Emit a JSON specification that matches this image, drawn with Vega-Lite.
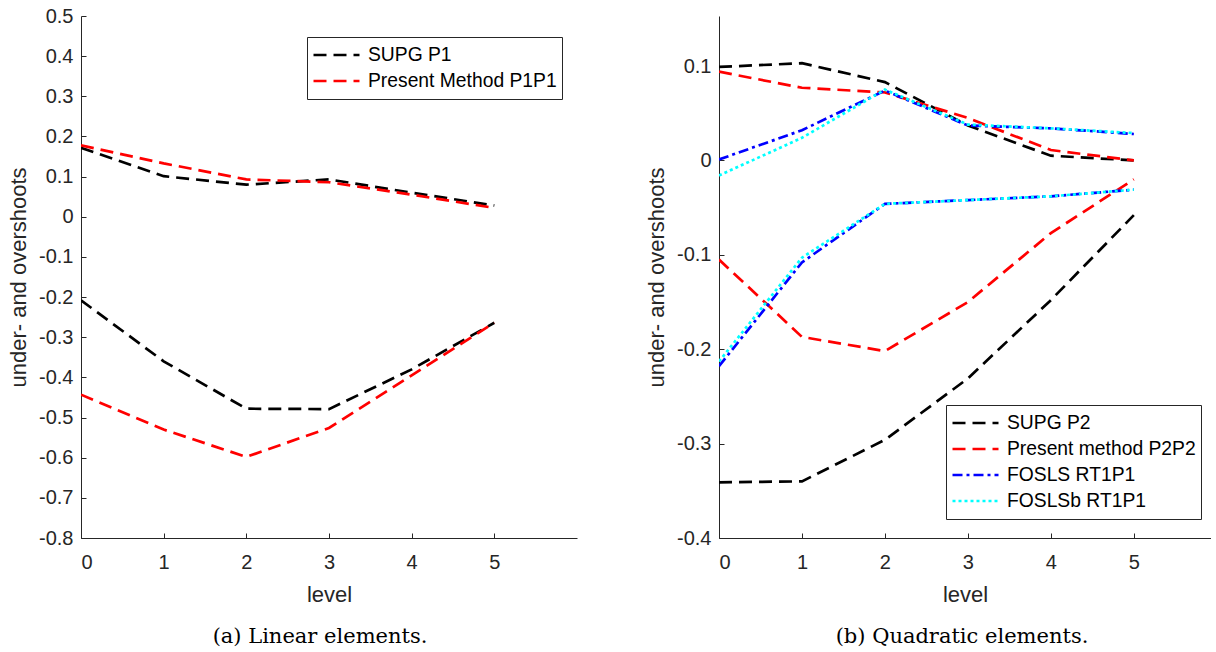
{
  "$schema": "https://vega.github.io/schema/vega-lite/v6.json",
  "background": "white",
  "autosize": {"type": "pad"},
  "padding": {"left": 7, "top": 6, "right": 0, "bottom": 0},
  "bounds": "flush",
  "spacing": 142,
  "config": {
    "view": {"stroke": null},
    "axis": {
      "grid": false,
      "domainColor": "#262626",
      "tickColor": "#262626",
      "labelColor": "#262626",
      "titleColor": "#262626",
      "labelFont": "Liberation Sans",
      "titleFont": "Liberation Sans",
      "labelFontSize": 20,
      "titleFontSize": 22,
      "titleFontWeight": "normal",
      "tickSize": -5,
      "tickWidth": 1,
      "domainWidth": 1
    },
    "axisY": {"labelPadding": 13, "titlePadding": 8},
    "axisX": {"labelPadding": 19, "titlePadding": 12},
    "legend": {
      "orient": "none",
      "title": null,
      "labelFont": "Liberation Sans",
      "labelFontSize": 19.3,
      "labelColor": "#000000",
      "symbolType": "stroke",
      "symbolSize": 2116,
      "symbolStrokeWidth": 2.6,
      "labelOffset": 7,
      "rowPadding": 0,
      "clipHeight": 26,
      "padding": 5,
      "strokeColor": "#262626",
      "fillColor": "white",
      "labelLimit": 400
    },
    "title": {
      "font": "DejaVu Serif",
      "fontSize": 21,
      "fontWeight": "normal",
      "color": "#000000",
      "orient": "bottom",
      "anchor": "middle",
      "offset": 21
    }
  },
  "resolve": {
    "scale": {"x": "independent", "y": "independent", "color": "independent", "strokeDash": "independent"},
    "legend": {"color": "independent", "strokeDash": "independent"}
  },
  "hconcat": [
    {
      "width": 496,
      "height": 522,
      "title": {"text": "(a) Linear elements.", "dx": -9},
      "data": {
        "values": [
          {"series": "SUPG P1", "branch": "upper", "level": 0, "value": 0.172},
          {"series": "SUPG P1", "branch": "upper", "level": 1, "value": 0.101},
          {"series": "SUPG P1", "branch": "upper", "level": 2, "value": 0.080},
          {"series": "SUPG P1", "branch": "upper", "level": 3, "value": 0.093},
          {"series": "SUPG P1", "branch": "upper", "level": 4, "value": 0.060},
          {"series": "SUPG P1", "branch": "upper", "level": 5, "value": 0.028},
          {"series": "SUPG P1", "branch": "lower", "level": 0, "value": -0.208},
          {"series": "SUPG P1", "branch": "lower", "level": 1, "value": -0.360},
          {"series": "SUPG P1", "branch": "lower", "level": 2, "value": -0.478},
          {"series": "SUPG P1", "branch": "lower", "level": 3, "value": -0.479},
          {"series": "SUPG P1", "branch": "lower", "level": 4, "value": -0.380},
          {"series": "SUPG P1", "branch": "lower", "level": 5, "value": -0.264},
          {"series": "Present Method P1P1", "branch": "upper", "level": 0, "value": 0.178},
          {"series": "Present Method P1P1", "branch": "upper", "level": 1, "value": 0.133},
          {"series": "Present Method P1P1", "branch": "upper", "level": 2, "value": 0.093},
          {"series": "Present Method P1P1", "branch": "upper", "level": 3, "value": 0.086},
          {"series": "Present Method P1P1", "branch": "upper", "level": 4, "value": 0.055},
          {"series": "Present Method P1P1", "branch": "upper", "level": 5, "value": 0.022},
          {"series": "Present Method P1P1", "branch": "lower", "level": 0, "value": -0.443},
          {"series": "Present Method P1P1", "branch": "lower", "level": 1, "value": -0.530},
          {"series": "Present Method P1P1", "branch": "lower", "level": 2, "value": -0.598},
          {"series": "Present Method P1P1", "branch": "lower", "level": 3, "value": -0.526},
          {"series": "Present Method P1P1", "branch": "lower", "level": 4, "value": -0.395},
          {"series": "Present Method P1P1", "branch": "lower", "level": 5, "value": -0.264}
        ]
      },
      "mark": {"type": "line", "strokeWidth": 2.7, "clip": true},
      "encoding": {
        "x": {
          "field": "level", "type": "quantitative", "title": "level",
          "scale": {"domain": [0, 6], "nice": false, "zero": false},
          "axis": {"values": [0, 1, 2, 3, 4, 5]}
        },
        "y": {
          "field": "value", "type": "quantitative", "title": "under- and overshoots",
          "scale": {"domain": [-0.8, 0.5], "nice": false, "zero": false},
          "axis": {
            "values": [-0.8, -0.7, -0.6, -0.5, -0.4, -0.3, -0.2, -0.1, 0, 0.1, 0.2, 0.3, 0.4, 0.5],
            "labelExpr": "abs(datum.value) < 1e-9 ? '0' : (datum.value < 0 ? '-' + format(-datum.value, '.1f') : format(datum.value, '.1f'))"
          }
        },
        "color": {
          "field": "series", "type": "nominal",
          "scale": {"domain": ["SUPG P1", "Present Method P1P1"], "range": ["#000000", "#ff0000"]},
          "legend": {"legendX": 226, "legendY": 21}
        },
        "strokeDash": {
          "field": "series", "type": "nominal",
          "scale": {"domain": ["SUPG P1", "Present Method P1P1"], "range": [[13, 7], [13, 7]]},
          "legend": {"legendX": 226, "legendY": 21}
        },
        "detail": {"field": "branch"},
        "order": {"field": "level"}
      }
    },
    {
      "width": 492,
      "height": 522,
      "title": {"text": "(b) Quadratic elements.", "dx": -3},
      "data": {
        "values": [
          {"series": "SUPG P2", "branch": "upper", "level": 0, "value": 0.099},
          {"series": "SUPG P2", "branch": "upper", "level": 1, "value": 0.103},
          {"series": "SUPG P2", "branch": "upper", "level": 2, "value": 0.083},
          {"series": "SUPG P2", "branch": "upper", "level": 3, "value": 0.037},
          {"series": "SUPG P2", "branch": "upper", "level": 4, "value": 0.005},
          {"series": "SUPG P2", "branch": "upper", "level": 5, "value": 0.000},
          {"series": "SUPG P2", "branch": "lower", "level": 0, "value": -0.341},
          {"series": "SUPG P2", "branch": "lower", "level": 1, "value": -0.340},
          {"series": "SUPG P2", "branch": "lower", "level": 2, "value": -0.296},
          {"series": "SUPG P2", "branch": "lower", "level": 3, "value": -0.231},
          {"series": "SUPG P2", "branch": "lower", "level": 4, "value": -0.148},
          {"series": "SUPG P2", "branch": "lower", "level": 5, "value": -0.058},
          {"series": "Present method P2P2", "branch": "upper", "level": 0, "value": 0.094},
          {"series": "Present method P2P2", "branch": "upper", "level": 1, "value": 0.077},
          {"series": "Present method P2P2", "branch": "upper", "level": 2, "value": 0.072},
          {"series": "Present method P2P2", "branch": "upper", "level": 3, "value": 0.045},
          {"series": "Present method P2P2", "branch": "upper", "level": 4, "value": 0.011},
          {"series": "Present method P2P2", "branch": "upper", "level": 5, "value": 0.000},
          {"series": "Present method P2P2", "branch": "lower", "level": 0, "value": -0.105},
          {"series": "Present method P2P2", "branch": "lower", "level": 1, "value": -0.187},
          {"series": "Present method P2P2", "branch": "lower", "level": 2, "value": -0.202},
          {"series": "Present method P2P2", "branch": "lower", "level": 3, "value": -0.150},
          {"series": "Present method P2P2", "branch": "lower", "level": 4, "value": -0.077},
          {"series": "Present method P2P2", "branch": "lower", "level": 5, "value": -0.020},
          {"series": "FOSLS RT1P1", "branch": "upper", "level": 0, "value": 0.001},
          {"series": "FOSLS RT1P1", "branch": "upper", "level": 1, "value": 0.032},
          {"series": "FOSLS RT1P1", "branch": "upper", "level": 2, "value": 0.074},
          {"series": "FOSLS RT1P1", "branch": "upper", "level": 3, "value": 0.037},
          {"series": "FOSLS RT1P1", "branch": "upper", "level": 4, "value": 0.034},
          {"series": "FOSLS RT1P1", "branch": "upper", "level": 5, "value": 0.028},
          {"series": "FOSLS RT1P1", "branch": "lower", "level": 0, "value": -0.218},
          {"series": "FOSLS RT1P1", "branch": "lower", "level": 1, "value": -0.108},
          {"series": "FOSLS RT1P1", "branch": "lower", "level": 2, "value": -0.046},
          {"series": "FOSLS RT1P1", "branch": "lower", "level": 3, "value": -0.042},
          {"series": "FOSLS RT1P1", "branch": "lower", "level": 4, "value": -0.038},
          {"series": "FOSLS RT1P1", "branch": "lower", "level": 5, "value": -0.031},
          {"series": "FOSLSb RT1P1", "branch": "upper", "level": 0, "value": -0.016},
          {"series": "FOSLSb RT1P1", "branch": "upper", "level": 1, "value": 0.024},
          {"series": "FOSLSb RT1P1", "branch": "upper", "level": 2, "value": 0.075},
          {"series": "FOSLSb RT1P1", "branch": "upper", "level": 3, "value": 0.038},
          {"series": "FOSLSb RT1P1", "branch": "upper", "level": 4, "value": 0.034},
          {"series": "FOSLSb RT1P1", "branch": "upper", "level": 5, "value": 0.029},
          {"series": "FOSLSb RT1P1", "branch": "lower", "level": 0, "value": -0.213},
          {"series": "FOSLSb RT1P1", "branch": "lower", "level": 1, "value": -0.103},
          {"series": "FOSLSb RT1P1", "branch": "lower", "level": 2, "value": -0.046},
          {"series": "FOSLSb RT1P1", "branch": "lower", "level": 3, "value": -0.042},
          {"series": "FOSLSb RT1P1", "branch": "lower", "level": 4, "value": -0.038},
          {"series": "FOSLSb RT1P1", "branch": "lower", "level": 5, "value": -0.031}
        ]
      },
      "mark": {"type": "line", "strokeWidth": 2.7, "clip": true},
      "encoding": {
        "x": {
          "field": "level", "type": "quantitative", "title": "level",
          "scale": {"domain": [0, 5.93], "nice": false, "zero": false},
          "axis": {"values": [0, 1, 2, 3, 4, 5]}
        },
        "y": {
          "field": "value", "type": "quantitative", "title": "under- and overshoots",
          "scale": {"domain": [-0.4, 0.153], "nice": false, "zero": false},
          "axis": {
            "values": [-0.4, -0.3, -0.2, -0.1, 0, 0.1],
            "labelExpr": "abs(datum.value) < 1e-9 ? '0' : (datum.value < 0 ? '-' + format(-datum.value, '.1f') : format(datum.value, '.1f'))"
          }
        },
        "color": {
          "field": "series", "type": "nominal",
          "scale": {"domain": ["SUPG P2", "Present method P2P2", "FOSLS RT1P1", "FOSLSb RT1P1"], "range": ["#000000", "#ff0000", "#0000ff", "#00ffff"]},
          "legend": {"legendX": 227, "legendY": 389}
        },
        "strokeDash": {
          "field": "series", "type": "nominal",
          "scale": {"domain": ["SUPG P2", "Present method P2P2", "FOSLS RT1P1", "FOSLSb RT1P1"], "range": [[13, 7], [13, 7], [10, 4, 3, 4], [3, 3]]},
          "legend": {"legendX": 227, "legendY": 389}
        },
        "detail": {"field": "branch"},
        "order": {"field": "level"}
      }
    }
  ]
}
